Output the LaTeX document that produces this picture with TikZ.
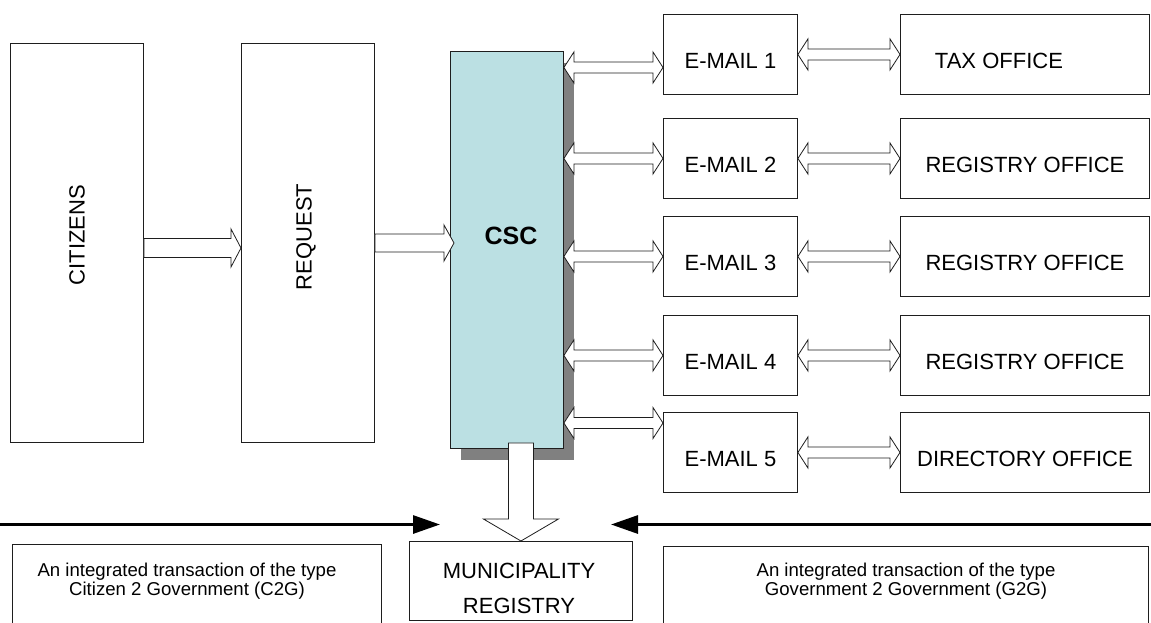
\documentclass[tikz,border=0pt]{standalone}
\usepackage{fontspec}
\setmainfont{Liberation Sans}
\usetikzlibrary{arrows.meta,calc,shadows}
\definecolor{cscblue}{RGB}{187,224,227}
\definecolor{linegray}{RGB}{30,30,30}
\definecolor{shadowgray}{RGB}{128,128,128}

% horizontal block arrow, pointing right; y taken from #1, x of tip from #2
\newcommand\fatR[5]{%
  \draw[fatarrow] let \p1=#1, \p2=#2 in
    (\x1,\y1+#3) -- (\x2-#5,\y1+#3) -- (\x2-#5,\y1+#4) -- (\x2,\y1)
    -- (\x2-#5,\y1-#4) -- (\x2-#5,\y1-#3) -- (\x1,\y1-#3) -- cycle;}
% horizontal double block arrow
\newcommand\fatLR[5]{%
  \draw[fatarrow] let \p1=#1, \p2=#2 in
    (\x1,\y1) -- (\x1+#5,\y1+#4) -- (\x1+#5,\y1+#3) -- (\x2-#5,\y1+#3)
    -- (\x2-#5,\y1+#4) -- (\x2,\y1) -- (\x2-#5,\y1-#4) -- (\x2-#5,\y1-#3)
    -- (\x1+#5,\y1-#3) -- (\x1+#5,\y1-#4) -- cycle;}
% vertical block arrow pointing down; y of start from #1, tip at #2
\newcommand\fatD[5]{%
  \draw[fatarrow] let \p1=#1, \p2=#2 in
    (\x2+#3,\y1) -- (\x2+#3,\y2+#5) -- (\x2+#4,\y2+#5) -- (\x2,\y2)
    -- (\x2-#4,\y2+#5) -- (\x2-#3,\y2+#5) -- (\x2-#3,\y1) -- cycle;}

\begin{document}
\begin{tikzpicture}[x=1pt,y=-1pt,
  box/.style={draw=linegray, line width=0.9pt, fill=white, inner sep=0pt, anchor=north west},
  lbl/.style={font=\fontsize{22}{26}\selectfont},
  low/.style={text height=28pt, text depth=0pt},
  smalltxt/.style={anchor=north, align=center, inner sep=0pt, font=\fontsize{18.6}{16.8}\selectfont},
  fatarrow/.style={draw=linegray, line width=0.8pt, fill=white, line join=miter},
  bigarrow/.style={line width=3pt, draw=black, -{Triangle[length=27pt,width=18pt]}}]

\useasboundingbox (0,0) rectangle (1151,622);
\clip (0,0) rectangle (1151,622);

% left boxes
\node[box, minimum width=133pt, minimum height=399pt] (cit) at (10,43) {};
\node[lbl, rotate=90] (cittxt) at (77,235) {CITIZENS};
\node[box, minimum width=133pt, minimum height=399pt] (req) at (241,43) {};
\node[lbl, rotate=90] (reqtxt) at (306,237) {REQUEST};

% CSC
\node[box, fill=cscblue, minimum width=113pt, minimum height=397pt,
      drop shadow={shadow xshift=11pt, shadow yshift=-12pt, fill=shadowgray, opacity=1}] (csc) at (450,51) {};
\node[font=\bfseries\fontsize{25}{30}\selectfont] (csctxt) at (511,236) {CSC};

% e-mail boxes
\node[box, lbl, low, minimum width=134pt, minimum height=80pt] (e1) at (663,14) {E-MAIL 1};
\node[box, lbl, low, minimum width=134pt, minimum height=80pt] (e2) at (663,118) {E-MAIL 2};
\node[box, lbl, low, minimum width=134pt, minimum height=80pt] (e3) at (663,216) {E-MAIL 3};
\node[box, lbl, low, minimum width=134pt, minimum height=80pt] (e4) at (663,315) {E-MAIL 4};
\node[box, lbl, low, minimum width=134pt, minimum height=80pt] (e5) at (663,412) {E-MAIL 5};

% office boxes
\node[box, lbl, low, minimum width=249pt, minimum height=80pt] (o1) at (900,14) {TAX OFFICE\hspace*{52pt}};
\node[box, lbl, low, minimum width=249pt, minimum height=80pt] (o2) at (900,118) {REGISTRY OFFICE};
\node[box, lbl, low, minimum width=249pt, minimum height=80pt] (o3) at (900,216) {REGISTRY OFFICE};
\node[box, lbl, low, minimum width=249pt, minimum height=80pt] (o4) at (900,315) {REGISTRY OFFICE};
\node[box, lbl, low, minimum width=249pt, minimum height=80pt] (o5) at (900,412) {DIRECTORY OFFICE};

% bottom boxes
\node[box, minimum width=369pt, minimum height=100pt] (cbox) at (12,544) {};
\node[smalltxt] (ctxt) at (187,563) {An integrated transaction of the type\\Citizen 2 Government (C2G)};
\node[box, minimum width=223pt, minimum height=79pt] (muni) at (409,541) {};
\node[anchor=north, align=center, inner sep=0pt, font=\fontsize{22}{35}\selectfont] (munitxt) at (519,563) {MUNICIPALITY\\REGISTRY};
\node[box, minimum width=485pt, minimum height=100pt] (gbox) at (663,546) {};
\node[smalltxt] (gtxt) at (906,563) {An integrated transaction of the type\\Government 2 Government (G2G)};

% row helpers
\coordinate (rowA) at (0,248);
\coordinate (rowB) at (0,243);
\coordinate (row1) at (0,67.5);
\coordinate (row5) at (0,423);

% block arrows
\fatR{(cit.east |- rowA)}{(req.west)}{9.5pt}{19pt}{10pt}
\fatR{(req.east |- rowB)}{([xshift=4pt]csc.west)}{9pt}{18pt}{10pt}

\fatLR{(csc.east |- row1)}{(e1.west)}{5.5pt}{15.5pt}{10pt}
\fatLR{(csc.east |- e2)}{(e2.west)}{5.5pt}{15.5pt}{10pt}
\fatLR{(csc.east |- e3)}{(e3.west)}{5.5pt}{15.5pt}{10pt}
\fatLR{(csc.east |- e4)}{(e4.west)}{5.5pt}{15.5pt}{10pt}
\fatLR{(csc.east |- row5)}{(e5.west)}{5.5pt}{15.5pt}{10pt}

\fatLR{(e1.east)}{(o1.west)}{5.5pt}{15.5pt}{10pt}
\fatLR{(e2.east)}{(o2.west)}{5.5pt}{15.5pt}{10pt}
\fatLR{(e3.east)}{(o3.west)}{5.5pt}{15.5pt}{10pt}
\fatLR{(e4.east)}{(o4.west)}{5.5pt}{15.5pt}{10pt}
\fatLR{(e5.east)}{(o5.west)}{5.5pt}{15.5pt}{10pt}

\fatD{([yshift=6pt]csc.south)}{(muni.north)}{12.5pt}{37.5pt}{22pt}

% long black arrows
\coordinate (lfrom) at (0,524.5);
\coordinate (lto) at (440,524.5);
\coordinate (rfrom) at (1151,524.5);
\coordinate (rto) at (611,524.5);
\draw[bigarrow] (lfrom) -- (lto);
\draw[bigarrow] (rfrom) -- (rto);
\end{tikzpicture}
\end{document}
